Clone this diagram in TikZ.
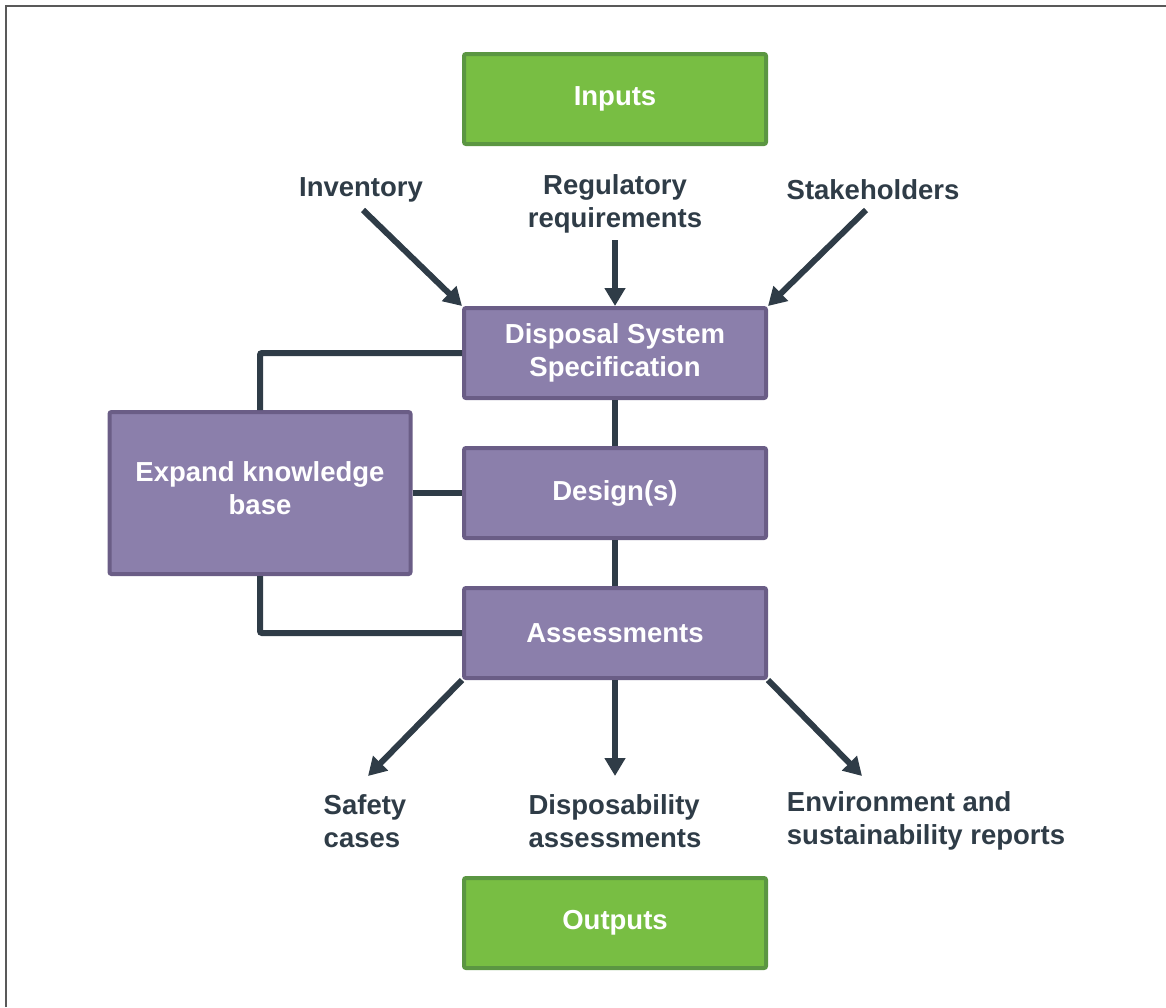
\documentclass[tikz,border=0pt]{standalone}
\usepackage{fontspec}
\setmainfont{Liberation Sans}
\usetikzlibrary{arrows.meta,positioning}

\definecolor{leaf}{HTML}{78BE43}
\definecolor{leafedge}{HTML}{5B9642}
\definecolor{lilac}{HTML}{8B7FAB}
\definecolor{lilacedge}{HTML}{6A5D86}
\definecolor{slate}{HTML}{2F3C47}

\tikzset{
    stagebox/.style={draw=lilacedge, fill=lilac, line width=4pt, rounded corners=2pt,
        minimum width=302pt, minimum height=90pt, text=white, align=center,
        font=\fontsize{27.5}{33}\selectfont\bfseries},
    endbox/.style={stagebox, draw=leafedge, fill=leaf},
    lbl/.style={text=slate, font=\fontsize{27.5}{33}\selectfont\bfseries, inner sep=0pt},
    link/.style={draw=slate, line width=6pt},
    feed/.style={link, -{Triangle[length=18pt,width=20pt]}}
}

\begin{document}
\begin{tikzpicture}[x=1pt,y=-1pt]
    \useasboundingbox (0,0) rectangle (1166,1007);
    \draw[line width=2pt, draw=black!65] (6,1007) -- (6,6) -- (1166,6);

    % main column
    \node[endbox] (inputs) at (615,99) {Inputs};
    \node[stagebox] (dss) at (615,353) {Disposal System\\Specification};
    \node[stagebox] (design) at (615,493) {Design(s)};
    \node[stagebox] (assess) at (615,633) {Assessments};
    \node[endbox] (outputs) at (615,923) {Outputs};
    \node[stagebox, minimum width=301pt, minimum height=162pt] (kb) at (260,493) {};
    \node[text=white, align=center, font=\fontsize{27.5}{33}\selectfont\bfseries] (kbtext) at (260,488) {Expand knowledge\\base};

    % what goes in
    \node[lbl] (inv) at (361,190) {Inventory};
    \node[lbl, align=center] (reg) at (615,204) {Regulatory\\requirements};
    \node[lbl] (stake) at (873,190) {Stakeholders};

    % what comes out
    \node[lbl, align=left] (safety) at (365,821) {Safety\\cases};
    \node[lbl, align=left] (dispo) at (615,821) {Disposability\\assessments};
    \node[lbl, align=left] (env) at (926,821) {Environment and\\sustainability reports};

    \coordinate (inv-end) at (363,210);
    \coordinate (stake-end) at (866,210);
    \coordinate (safety-end) at (368,776);
    \coordinate (env-end) at (862,776);

    \draw[feed] (inv-end) -- (dss.north west);
    \draw[feed] (615,240) -- (dss.north);
    \draw[feed] (stake-end) -- (dss.north east);

    \draw[feed] (assess.south west) -- (safety-end);
    \draw[feed] (assess.south) -- (dispo.north |- safety-end);
    \draw[feed] (assess.south east) -- (env-end);

    % loop through the knowledge base
    \draw[link] (dss.south) -- (design.north);
    \draw[link] (design.south) -- (assess.north);
    \draw[link, rounded corners=2pt] (dss.west) -| (kb.north);
    \draw[link, rounded corners=2pt] (kb.south) |- (assess.west);
    \draw[link] (kb.east) -- (design.west);
\end{tikzpicture}
\end{document}
